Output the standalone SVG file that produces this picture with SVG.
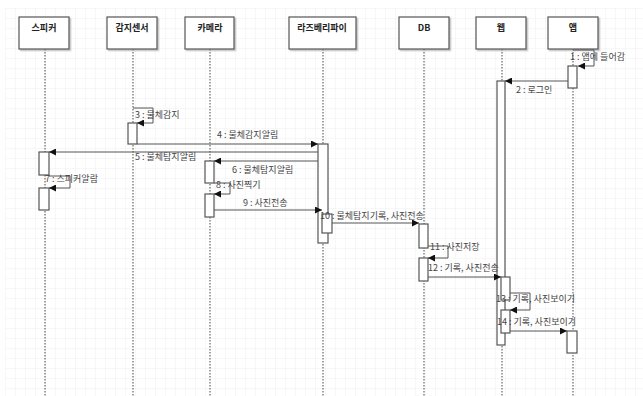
<svg xmlns="http://www.w3.org/2000/svg" width="643" height="396" viewBox="0 0 643 396">
<style>
.hd rect{fill:#fff;stroke:#555;stroke-width:1.2}
.hd text{font-family:"Noto Sans CJK KR","Noto Sans",sans-serif;font-size:9px;font-weight:bold;fill:#222;text-anchor:middle}
.life{stroke:#666;stroke-width:1.2;stroke-dasharray:1.5 1.5;fill:none}
.act{fill:#fff;stroke:#555;stroke-width:1}
.msg{stroke:#555;stroke-width:1;fill:none;marker-end:url(#ah)}
.lb{font-family:"Noto Sans CJK KR","Noto Sans",sans-serif;font-size:9px;fill:#444}
</style>
<defs>
<pattern id="grid" width="10" height="10" patternUnits="userSpaceOnUse" x="5" y="8">
<path d="M10 0H0V10" fill="none" stroke="#ececec" stroke-width="0.8"/>
</pattern>
<marker id="ah" viewBox="0 0 10 10" refX="10" refY="5" markerWidth="7" markerHeight="7" markerUnits="userSpaceOnUse" orient="auto">
<path d="M0 0L10 5L0 10z" fill="#111"/>
</marker>
<filter id="sh" x="-10%" y="-10%" width="130%" height="130%"><feDropShadow dx="1.5" dy="1.5" stdDeviation="0.6" flood-color="#999" flood-opacity="0.6"/></filter>
</defs>
<rect width="643" height="396" fill="#fff"/>
<rect x="5" y="8" width="638" height="388" fill="url(#grid)"/>

<g id="lifelines">
<line class="life" x1="45" y1="49" x2="45" y2="396"/>
<line class="life" x1="133" y1="49" x2="133" y2="396"/>
<line class="life" x1="210" y1="49" x2="210" y2="396"/>
<line class="life" x1="323" y1="49" x2="323" y2="396"/>
<line class="life" x1="424" y1="49" x2="424" y2="396"/>
<line class="life" x1="502" y1="49" x2="502" y2="396"/>
<line class="life" x1="573" y1="49" x2="573" y2="396"/>
</g>

<g id="speaker" class="hd"><rect x="19" y="17" width="50" height="32" filter="url(#sh)"/><text x="44" y="31">스피커</text>
<rect class="act" x="39" y="152" width="10" height="23"/><rect class="act" x="39" y="188" width="10" height="22"/></g>
<g id="sensor" class="hd"><rect x="107" y="17" width="50" height="32" filter="url(#sh)"/><text x="132" y="31">감지센서</text>
<rect class="act" x="128" y="123" width="9" height="21"/></g>
<g id="camera" class="hd"><rect x="185" y="17" width="49" height="32" filter="url(#sh)"/><text x="210" y="31">카메라</text>
<rect class="act" x="205" y="161" width="9" height="22"/><rect class="act" x="205" y="194" width="9" height="23"/></g>
<g id="rpi" class="hd"><rect x="289" y="17" width="67" height="32" filter="url(#sh)"/><text x="322" y="31">라즈베리파이</text>
<rect class="act" x="318" y="144" width="10" height="99"/><rect class="act" x="322" y="214" width="10" height="19"/></g>
<g id="db" class="hd"><rect x="399" y="17" width="50" height="32" filter="url(#sh)"/><text x="424" y="31">DB</text>
<rect class="act" x="419" y="224" width="9" height="24"/><rect class="act" x="419" y="258" width="9" height="23"/></g>
<g id="web" class="hd"><rect x="476" y="17" width="50" height="32" filter="url(#sh)"/><text x="501" y="31">웹</text>
<rect class="act" x="497" y="81" width="8" height="264"/><rect class="act" x="501" y="277" width="9" height="23"/><rect class="act" x="501" y="310" width="9" height="23"/></g>
<g id="app" class="hd"><rect x="548" y="17" width="50" height="32" filter="url(#sh)"/><text x="573" y="31">앱</text>
<rect class="act" x="568" y="66" width="9" height="22"/><rect class="act" x="567" y="331" width="10" height="22"/></g>

<g id="connectors">
<path class="msg" d="M573 50H594V66H578"/>
<path class="msg" d="M568 81H505"/>
<path class="msg" d="M133 108H153V123H137"/>
<path class="msg" d="M137 144H318"/>
<path class="msg" d="M318 152H49"/>
<path class="msg" d="M318 161H214"/>
<path class="msg" d="M49 176H70V188H49"/>
<path class="msg" d="M214 183H230V194H214"/>
<path class="msg" d="M214 210H322"/>
<path class="msg" d="M332 223H419"/>
<path class="msg" d="M428 246H448V258H428"/>
<path class="msg" d="M428 277H501"/>
<path class="msg" d="M510 293H530V310H510"/>
<path class="msg" d="M510 331H567"/>
</g>

<g id="labels">
<text class="lb" x="570" y="60">1 : 앱에 들어감</text>
<text class="lb" x="516" y="93">2 : 로그인</text>
<text class="lb" x="135" y="118">3 : 물체감지</text>
<text class="lb" x="217" y="138">4 : 물체감지알림</text>
<text class="lb" x="135" y="160">5 : 물체탐지알림</text>
<text class="lb" x="232" y="173">6 : 물체탐지알림</text>
<text class="lb" x="45" y="182">7 : 스피커알람</text>
<text class="lb" x="216" y="188">8 : 사진찍기</text>
<text class="lb" x="243" y="206">9 : 사진전송</text>
<text class="lb" x="320" y="219">10 : 물체탐지기록, 사진전송</text>
<text class="lb" x="430" y="250">11 : 사진저장</text>
<text class="lb" x="428" y="271">12 : 기록, 사진전송</text>
<text class="lb" x="496" y="302">13 : 기록, 사진보이기</text>
<text class="lb" x="497" y="325">14 : 기록, 사진보이기</text>
</g>
</svg>
